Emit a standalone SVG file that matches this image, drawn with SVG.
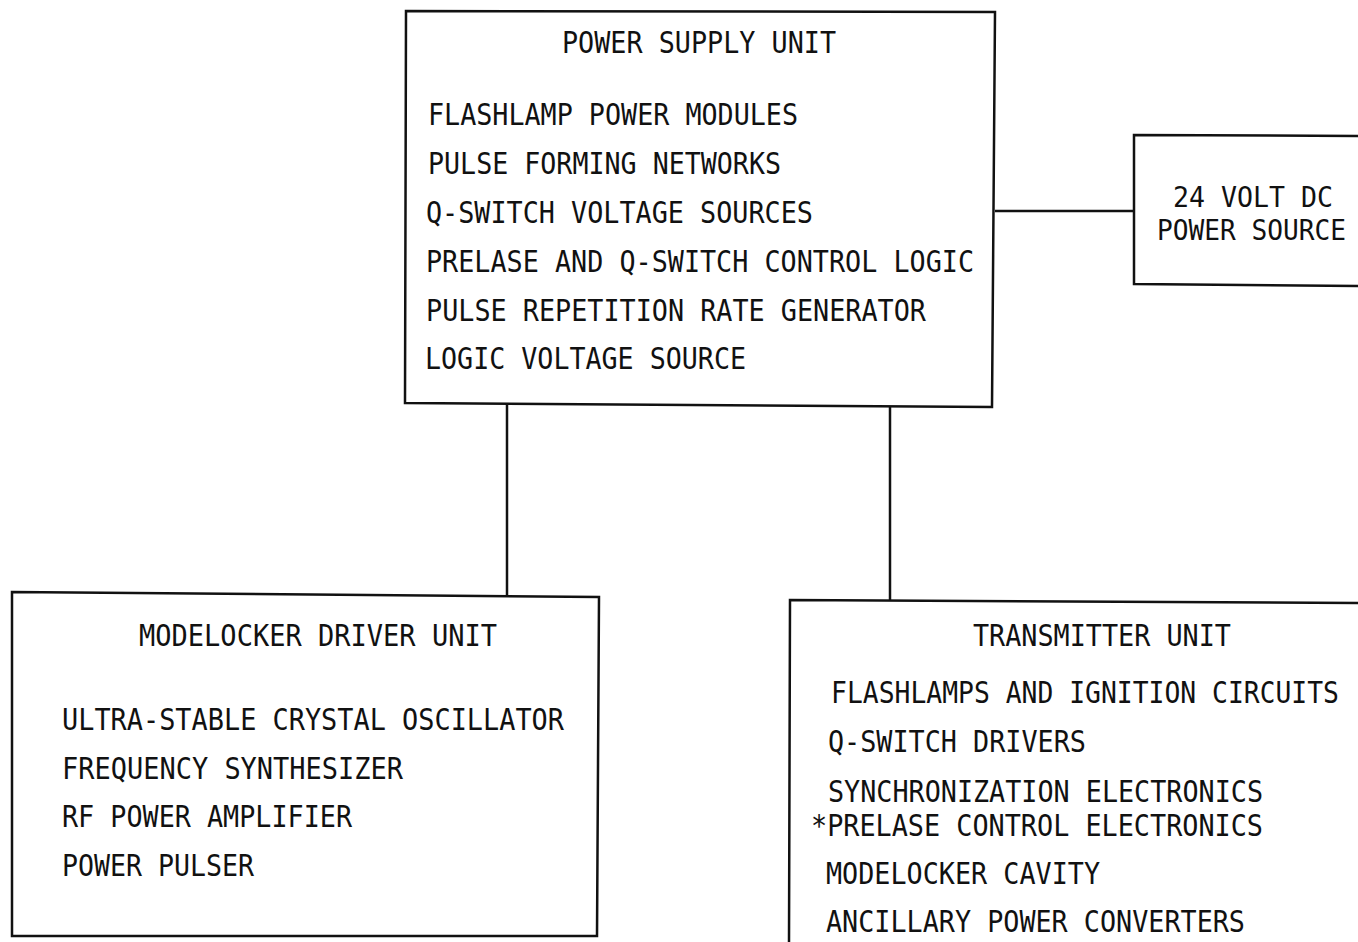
<svg xmlns="http://www.w3.org/2000/svg" width="1358" height="942" viewBox="0 0 1358 942">
<style>
.box{fill:none;stroke:#111;stroke-width:2.5}
.wire{fill:none;stroke:#111;stroke-width:2.5}
text{font-family:"DejaVu Sans Mono","Liberation Mono",monospace;font-size:31px;fill:#111}
.sm{font-size:28px}
</style>
<rect width="1358" height="942" fill="#fff"/>
<g id="connectors">
<line class="wire" x1="995" y1="211" x2="1134" y2="211"/>
<line class="wire" x1="507" y1="405" x2="507" y2="597"/>
<line class="wire" x1="890" y1="406" x2="890" y2="601"/>
</g>
<g id="power-supply-unit">
<path class="box" d="M406 11 L995 12 L992 407 L405 403 Z"/>
<text x="562" y="53" textLength="274" lengthAdjust="spacingAndGlyphs">POWER SUPPLY UNIT</text>
<text x="428" y="125" textLength="370" lengthAdjust="spacingAndGlyphs">FLASHLAMP POWER MODULES</text>
<text x="428" y="174" textLength="353" lengthAdjust="spacingAndGlyphs">PULSE FORMING NETWORKS</text>
<text x="426" y="223" textLength="387" lengthAdjust="spacingAndGlyphs">Q-SWITCH VOLTAGE SOURCES</text>
<text x="426" y="272" textLength="548" lengthAdjust="spacingAndGlyphs">PRELASE AND Q-SWITCH CONTROL LOGIC</text>
<text x="426" y="321" textLength="500" lengthAdjust="spacingAndGlyphs">PULSE REPETITION RATE GENERATOR</text>
<text x="425" y="369" textLength="321" lengthAdjust="spacingAndGlyphs">LOGIC VOLTAGE SOURCE</text>
</g>
<g id="dc-power-source">
<path class="box" d="M1360 136 L1134 135 L1134 284 L1360 286"/>
<text class="sm" x="1173" y="207" textLength="160" lengthAdjust="spacingAndGlyphs">24 VOLT DC</text>
<text class="sm" x="1157" y="240" textLength="189" lengthAdjust="spacingAndGlyphs">POWER SOURCE</text>
</g>
<g id="modelocker-driver-unit">
<path class="box" d="M12 592 L599 597 L597 936 L12 936 Z"/>
<text x="139" y="646" textLength="358" lengthAdjust="spacingAndGlyphs">MODELOCKER DRIVER UNIT</text>
<text x="62" y="730" textLength="502" lengthAdjust="spacingAndGlyphs">ULTRA-STABLE CRYSTAL OSCILLATOR</text>
<text x="62" y="779" textLength="341" lengthAdjust="spacingAndGlyphs">FREQUENCY SYNTHESIZER</text>
<text x="62" y="827" textLength="290" lengthAdjust="spacingAndGlyphs">RF POWER AMPLIFIER</text>
<text x="62" y="876" textLength="192" lengthAdjust="spacingAndGlyphs">POWER PULSER</text>
</g>
<g id="transmitter-unit">
<path class="box" d="M1360 603 L790 600 L789 944"/>
<text x="973" y="646" textLength="258" lengthAdjust="spacingAndGlyphs">TRANSMITTER UNIT</text>
<text x="831" y="703" textLength="508" lengthAdjust="spacingAndGlyphs">FLASHLAMPS AND IGNITION CIRCUITS</text>
<text x="828" y="752" textLength="258" lengthAdjust="spacingAndGlyphs">Q-SWITCH DRIVERS</text>
<text x="828" y="802" textLength="435" lengthAdjust="spacingAndGlyphs">SYNCHRONIZATION ELECTRONICS</text>
<text x="811" y="836" textLength="452" lengthAdjust="spacingAndGlyphs">*PRELASE CONTROL ELECTRONICS</text>
<text x="826" y="884" textLength="274" lengthAdjust="spacingAndGlyphs">MODELOCKER CAVITY</text>
<text x="826" y="932" textLength="419" lengthAdjust="spacingAndGlyphs">ANCILLARY POWER CONVERTERS</text>
</g>
</svg>
